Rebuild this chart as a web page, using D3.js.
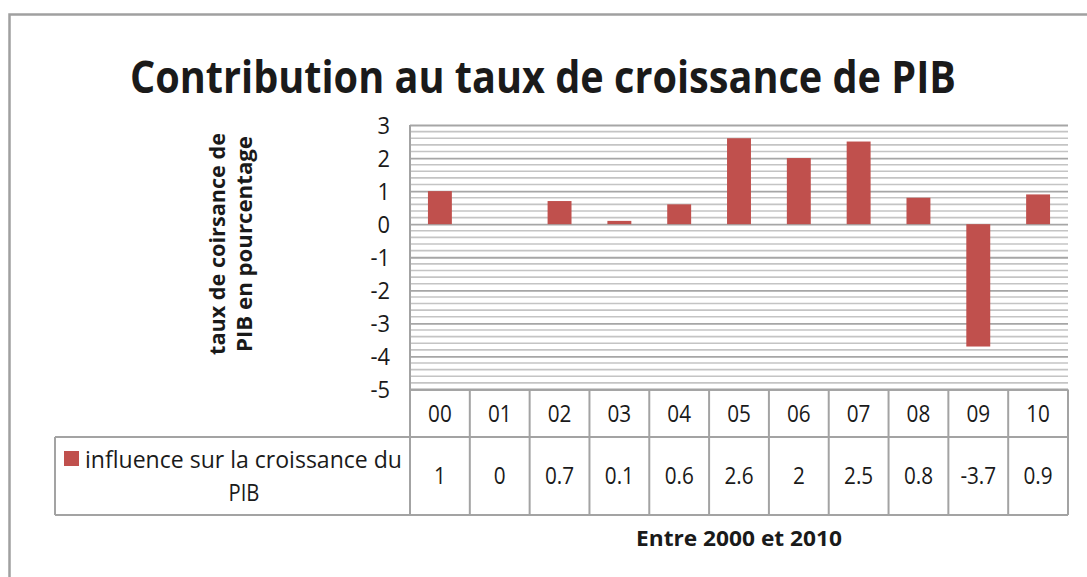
<!DOCTYPE html>
<html>
<head>
<meta charset="utf-8">
<script src="https://cdn.jsdelivr.net/npm/d3@7"></script>
<style>
  html, body { margin: 0; padding: 0; background: #fff; }
  svg { display: block; }
</style>
</head>
<body>
<svg id="chart" width="1087" height="577"></svg>
<script>
// ---- data ----
const categories = ["00", "01", "02", "03", "04", "05", "06", "07", "08", "09", "10"];
const values = [1, 0, 0.7, 0.1, 0.6, 2.6, 2, 2.5, 0.8, -3.7, 0.9];
const valueLabels = ["1", "0", "0.7", "0.1", "0.6", "2.6", "2", "2.5", "0.8", "-3.7", "0.9"];
const yTicks = [3, 2, 1, 0, -1, -2, -3, -4, -5];
const seriesName = ["influence sur la croissance du", "PIB"];
const titleText = "Contribution au taux de croissance de PIB";
const yTitle = ["taux de coirsance de", "PIB en pourcentage"];
const xTitle = "Entre 2000 et 2010";

// ---- layout ----
const svg = d3.select("#chart");
const FONT = "'Open Sans', 'Noto Sans', sans-serif";
const plot = { left: 410, right: 1068, top: 125, bottom: 389.5 };
const row1 = { top: 389.5, bottom: 437 };
const row2 = { top: 437, bottom: 515 };
const legendLeft = 55;
const barColor = "#C0504D";
const lineColor = "#a3a3a3";
const textColor = "#1a1a1a";

const x = d3.scaleBand().domain(categories).range([plot.left, plot.right]).paddingInner(0.6).paddingOuter(0.3);
const xCol = d3.scaleBand().domain(categories).range([plot.left, plot.right]);
const y = d3.scaleLinear().domain([-5, 3]).range([plot.bottom, plot.top]);

// outer border
svg.append("rect").attr("x", 9.5).attr("y", 14.5).attr("width", 1200).attr("height", 700)
  .attr("fill", "none").attr("stroke", "#a0a0a0").attr("stroke-width", 2.5);

// set text to a target width (Calibri-like proportions)
function fitText(sel, target) {
  sel.attr("textLength", target).attr("lengthAdjust", "spacingAndGlyphs");
}
function squeeze(sel, k) {
  sel.each(function () {
    const len = this.getComputedTextLength();
    d3.select(this).attr("textLength", len * k).attr("lengthAdjust", "spacingAndGlyphs");
  });
}

// title
const t = svg.append("text").attr("x", 543).attr("y", 93).attr("text-anchor", "middle")
  .attr("font-family", FONT).attr("font-weight", "bold").attr("font-size", 45)
  .attr("fill", textColor).text(titleText);
fitText(t, 826);

// minor gridlines
const minor = d3.range(-50, 31, 2).map(d => d / 10).filter(d => Math.abs(d - Math.round(d)) > 1e-6);
svg.append("g").selectAll("line").data(minor).join("line")
  .attr("x1", plot.left).attr("x2", plot.right)
  .attr("y1", d => y(d)).attr("y2", d => y(d))
  .attr("stroke", "#c4c4c4").attr("stroke-width", 1.6);

// major gridlines via axis
const gridAxis = d3.axisLeft(y).tickValues(yTicks).tickSize(-(plot.right - plot.left)).tickFormat("");
const gGrid = svg.append("g").attr("transform", `translate(${plot.left},0)`).call(gridAxis);
gGrid.select(".domain").remove();
gGrid.selectAll(".tick line").attr("stroke", "#a6a6a6").attr("stroke-width", 1.8);

// y axis labels
const yAxis = d3.axisLeft(y).tickValues(yTicks).tickSize(0).tickPadding(20).tickFormat(d3.format("d"));
const gY = svg.append("g").attr("transform", `translate(${plot.left},0)`).call(yAxis);
gY.select(".domain").remove();
gY.selectAll(".tick text").attr("font-family", FONT).attr("font-size", 23).attr("fill", textColor)
  .attr("dy", "0.36em").text(d => d < 0 ? "-" + Math.abs(d) : d);
squeeze(gY.selectAll(".tick text"), 0.95);

// bars
svg.append("g").selectAll("rect").data(values).join("rect")
  .attr("x", (d, i) => x(categories[i]))
  .attr("width", x.bandwidth())
  .attr("y", d => y(Math.max(0, d)))
  .attr("height", d => Math.abs(y(d) - y(0)))
  .attr("fill", barColor);

// plot left edge
svg.append("line").attr("x1", plot.left).attr("x2", plot.left).attr("y1", plot.top).attr("y2", row2.bottom)
  .attr("stroke", lineColor).attr("stroke-width", 2);

// data table lines
const tbl = svg.append("g").attr("stroke", lineColor).attr("stroke-width", 2);
tbl.append("line").attr("x1", plot.left).attr("x2", plot.right).attr("y1", row1.top).attr("y2", row1.top);
tbl.append("line").attr("x1", legendLeft).attr("x2", plot.right).attr("y1", row2.top).attr("y2", row2.top);
tbl.append("line").attr("x1", legendLeft).attr("x2", plot.right).attr("y1", row2.bottom).attr("y2", row2.bottom);
tbl.append("line").attr("x1", legendLeft).attr("x2", legendLeft).attr("y1", row2.top).attr("y2", row2.bottom);
tbl.selectAll(".v").data(categories).join("line").attr("class", "v")
  .attr("x1", d => xCol(d) + xCol.bandwidth()).attr("x2", d => xCol(d) + xCol.bandwidth())
  .attr("y1", row1.top).attr("y2", row2.bottom);

// category labels
const catT = svg.append("g").selectAll("text").data(categories).join("text")
  .attr("x", d => xCol(d) + xCol.bandwidth() / 2).attr("y", (row1.top + row1.bottom) / 2)
  .attr("dy", "0.36em").attr("text-anchor", "middle")
  .attr("font-family", FONT).attr("font-size", 23).attr("fill", textColor).text(d => d);
squeeze(catT, 0.9);

// value labels
const valT = svg.append("g").selectAll("text").data(valueLabels).join("text")
  .attr("x", (d, i) => xCol(categories[i]) + xCol.bandwidth() / 2).attr("y", (row2.top + row2.bottom) / 2)
  .attr("dy", "0.36em").attr("text-anchor", "middle")
  .attr("font-family", FONT).attr("font-size", 23).attr("fill", textColor).text(d => d);
squeeze(valT, 0.9);

// legend
svg.append("rect").attr("x", 64).attr("y", 451).attr("width", 15).attr("height", 15).attr("fill", barColor);
const l1 = svg.append("text").attr("x", 85).attr("y", 468)
  .attr("font-family", FONT).attr("font-size", 23).attr("fill", textColor).text(seriesName[0]);
fitText(l1, 317);
const l2 = svg.append("text").attr("x", 244).attr("y", 501).attr("text-anchor", "middle")
  .attr("font-family", FONT).attr("font-size", 23).attr("fill", textColor).text(seriesName[1]);
squeeze(l2, 0.88);

// y title
const yt = svg.append("g").attr("transform", "translate(231,244) rotate(-90)");
const yt1 = yt.append("text").attr("x", 0).attr("y", -6).attr("text-anchor", "middle")
  .attr("font-family", FONT).attr("font-weight", "bold").attr("font-size", 21).attr("fill", textColor).text(yTitle[0]);
fitText(yt1, 222);
const yt2 = yt.append("text").attr("x", 0).attr("y", 21).attr("text-anchor", "middle")
  .attr("font-family", FONT).attr("font-weight", "bold").attr("font-size", 21).attr("fill", textColor).text(yTitle[1]);
fitText(yt2, 216);

// x title
const xt = svg.append("text").attr("x", (plot.left + plot.right) / 2).attr("y", 546).attr("text-anchor", "middle")
  .attr("font-family", FONT).attr("font-weight", "bold").attr("font-size", 21).attr("fill", textColor).text(xTitle);
fitText(xt, 206);
</script>
</body>
</html>
